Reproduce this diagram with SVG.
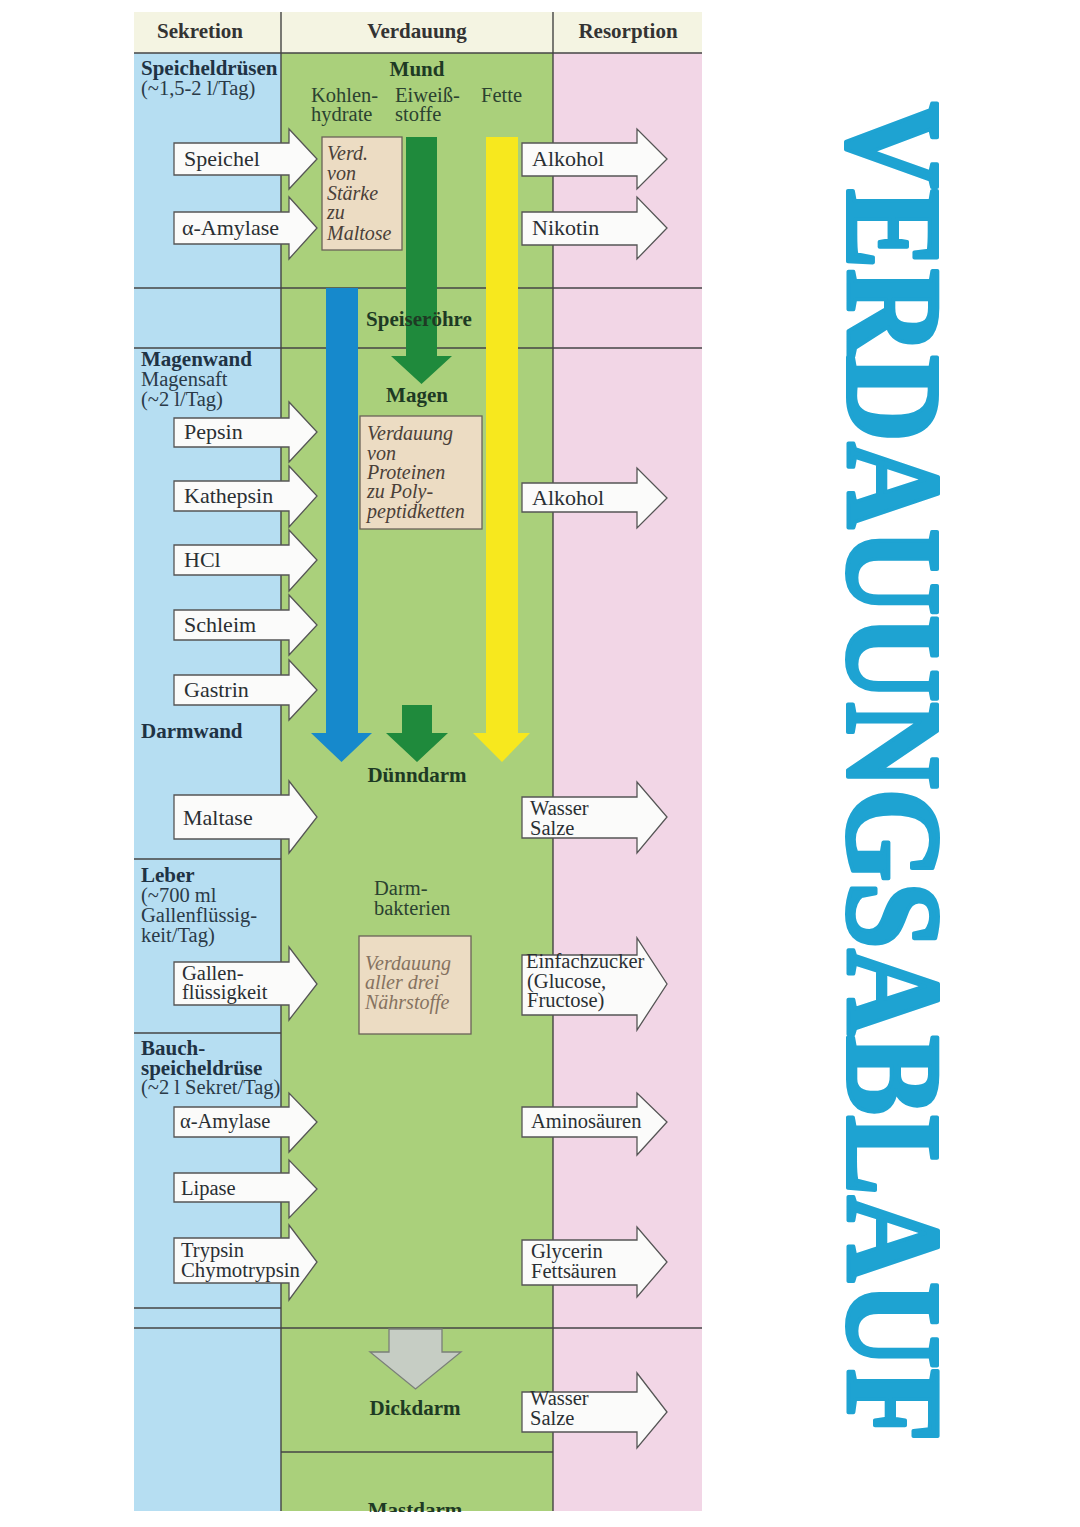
<svg xmlns="http://www.w3.org/2000/svg" width="1080" height="1527" viewBox="0 0 1080 1527">
<style>
.t{font-family:"Liberation Serif","Times New Roman",serif;fill:#2a2f33}
.lbl{font-size:22px}
.lbl2{font-size:20.5px}
.hd{font-size:21px;font-weight:bold;fill:#333}
.sec{font-size:21px;font-weight:bold;fill:#1f3344}
.secn{font-size:20.5px;fill:#2a3a48}
.org{font-size:21px;font-weight:bold;fill:#1e3a24}
.grn{font-size:20.5px;fill:#2b4230}
.it{font-size:20px;font-style:italic;fill:#4a4038}
.it2{font-size:20px;font-style:italic;fill:#857260}
.blk{fill:#fbfbfa;stroke:#555;stroke-width:1.3}
.box{fill:#ecdcc3;stroke:#6a6258;stroke-width:1.3}
.ln{stroke:#444;stroke-width:1.4}
.title{font-family:"Liberation Serif","Times New Roman",serif;font-weight:bold;font-size:118px;fill:#1ea3d2;stroke:#1ea3d2;stroke-width:3.5;stroke-linejoin:round}
</style>

<!-- background columns -->
<g id="table">
<rect x="134" y="12" width="568" height="41" fill="#f4f4e2"/>
<rect x="134" y="53" width="147" height="1458" fill="#b6def2"/>
<rect x="281" y="53" width="272" height="1458" fill="#aad07b"/>
<rect x="553" y="53" width="149" height="1458" fill="#f2d6e6"/>
<line class="ln" x1="134" y1="53" x2="702" y2="53"/>
<line class="ln" x1="281" y1="12" x2="281" y2="1511"/>
<line class="ln" x1="553" y1="12" x2="553" y2="1511"/>
<line class="ln" x1="134" y1="288" x2="702" y2="288"/>
<line class="ln" x1="134" y1="348" x2="702" y2="348"/>
<line class="ln" x1="134" y1="859" x2="281" y2="859"/>
<line class="ln" x1="134" y1="1033" x2="281" y2="1033"/>
<line class="ln" x1="134" y1="1308" x2="281" y2="1308"/>
<line class="ln" x1="134" y1="1328" x2="702" y2="1328"/>
<line class="ln" x1="281" y1="1452" x2="553" y2="1452"/>
<text class="t hd" x="200" y="38" text-anchor="middle">Sekretion</text>
<text class="t hd" x="417" y="38" text-anchor="middle">Verdauung</text>
<text class="t hd" x="628" y="38" text-anchor="middle">Resorption</text>
</g>

<!-- flow arrows -->
<g id="connectors">
<path d="M326,288 H358 V733 H372 L341.5,762 L311,733 H326 Z" fill="#1689cc"/>
<path d="M406,137 H437 V356 H452 L421.5,384 L391,356 H406 Z" fill="#1f8a3c"/>
<path d="M486,137 H518 V733 H530 L502,762 L473,733 H486 Z" fill="#f7e81e"/>
<path d="M402,705 H432 V733 H448 L417,762 L386,733 H402 Z" fill="#1f8a3c"/>
<path d="M389,1329 H442 V1352 H461 L415.5,1389 L370,1352 H389 Z" fill="#c6cdc4" stroke="#7a7f78" stroke-width="1.3"/>
</g>

<!-- left column organ labels -->
<g id="speicheldruesen">
<text class="t sec" x="141" y="75">Speicheldrüsen</text>
<text class="t secn" x="141" y="95">(~1,5-2 l/Tag)</text>
</g>
<g id="magenwand">
<text class="t sec" x="141" y="366">Magenwand</text>
<text class="t secn" x="141" y="386">Magensaft</text>
<text class="t secn" x="141" y="406">(~2 l/Tag)</text>
</g>
<g id="darmwand"><text class="t sec" x="141" y="738">Darmwand</text></g>
<g id="leber">
<text class="t sec" x="141" y="882">Leber</text>
<text class="t secn" x="141" y="902">(~700 ml</text>
<text class="t secn" x="141" y="922">Gallenflüssig-</text>
<text class="t secn" x="141" y="942">keit/Tag)</text>
</g>
<g id="bauchspeicheldruese">
<text class="t sec" x="141" y="1055">Bauch-</text>
<text class="t sec" x="141" y="1075">speicheldrüse</text>
<text class="t secn" x="141" y="1094" font-size="20">(~2 l Sekret/Tag)</text>
</g>

<!-- Verdauung column labels -->
<g id="mund">
<text class="t org" x="417" y="76" text-anchor="middle">Mund</text>
<text class="t grn" x="311" y="102">Kohlen-</text>
<text class="t grn" x="311" y="121">hydrate</text>
<text class="t grn" x="395" y="102">Eiweiß-</text>
<text class="t grn" x="395" y="121">stoffe</text>
<text class="t grn" x="481" y="102">Fette</text>
</g>
<g id="box-mund">
<rect class="box" x="322" y="137" width="80" height="113"/>
<text class="t it" x="327" y="160">Verd.</text>
<text class="t it" x="327" y="180">von</text>
<text class="t it" x="327" y="200">Stärke</text>
<text class="t it" x="327" y="219">zu</text>
<text class="t it" x="327" y="240">Maltose</text>
</g>
<g id="speiseroehre"><text class="t org" x="419" y="326" text-anchor="middle">Speiseröhre</text></g>
<g id="magen"><text class="t org" x="417" y="402" text-anchor="middle">Magen</text></g>
<g id="box-magen">
<rect class="box" x="360" y="416" width="122" height="113"/>
<text class="t it" x="367" y="440">Verdauung</text>
<text class="t it" x="367" y="460">von</text>
<text class="t it" x="367" y="479">Proteinen</text>
<text class="t it" x="367" y="498">zu Poly-</text>
<text class="t it" x="367" y="518">peptidketten</text>
</g>
<g id="duenndarm"><text class="t org" x="417" y="782" text-anchor="middle">Dünndarm</text></g>
<g id="darmbakterien">
<text class="t grn" x="374" y="895">Darm-</text>
<text class="t grn" x="374" y="915">bakterien</text>
</g>
<g id="box-duenndarm">
<rect class="box" x="359" y="936" width="112" height="98"/>
<text class="t it2" x="365" y="970">Verdauung</text>
<text class="t it2" x="365" y="989">aller drei</text>
<text class="t it2" x="365" y="1009">Nährstoffe</text>
</g>
<g id="dickdarm"><text class="t org" x="415" y="1415" text-anchor="middle">Dickdarm</text></g>
<g id="mastdarm"><text class="t org" x="415" y="1517" text-anchor="middle">Mastdarm</text></g>
<rect x="130" y="1512" width="580" height="15" fill="#ffffff"/>

<!-- secretion arrows -->
<g id="s-speichel"><path class="blk" d="M174,143 H289 V129 L317,159 L289,189 V175 H174 Z"/><text class="t lbl" x="184" y="166">Speichel</text></g>
<g id="s-amylase1"><path class="blk" d="M174,212 H289 V197 L317,228 L289,259 V244 H174 Z"/><text class="t lbl" x="182" y="235">α-Amylase</text></g>
<g id="s-pepsin"><path class="blk" d="M174,418 H289 V402 L317,432 L289,462 V447 H174 Z"/><text class="t lbl" x="184" y="439">Pepsin</text></g>
<g id="s-kathepsin"><path class="blk" d="M174,481 H289 V466 L317,496 L289,527 V511 H174 Z"/><text class="t lbl" x="184" y="503">Kathepsin</text></g>
<g id="s-hcl"><path class="blk" d="M174,545 H289 V530 L317,560 L289,591 V575 H174 Z"/><text class="t lbl" x="184" y="567">HCl</text></g>
<g id="s-schleim"><path class="blk" d="M174,610 H289 V595 L317,625 L289,655 V640 H174 Z"/><text class="t lbl" x="184" y="632">Schleim</text></g>
<g id="s-gastrin"><path class="blk" d="M174,675 H289 V660 L317,690 L289,720 V705 H174 Z"/><text class="t lbl" x="184" y="697">Gastrin</text></g>
<g id="s-maltase"><path class="blk" d="M174,795 H289 V781 L317,817 L289,853 V839 H174 Z"/><text class="t lbl" x="183" y="825">Maltase</text></g>
<g id="s-galle"><path class="blk" d="M174,962 H289 V947 L317,984 L289,1020 V1005 H174 Z"/><text class="t lbl2" x="182" y="980">Gallen-</text><text class="t lbl2" x="182" y="999">flüssigkeit</text></g>
<g id="s-amylase2"><path class="blk" d="M174,1107 H289 V1093 L317,1122 L289,1152 V1137 H174 Z"/><text class="t lbl2" x="180" y="1128">α-Amylase</text></g>
<g id="s-lipase"><path class="blk" d="M174,1173 H289 V1160 L317,1189 L289,1218 V1202 H174 Z"/><text class="t lbl2" x="181" y="1195">Lipase</text></g>
<g id="s-trypsin"><path class="blk" d="M174,1238 H289 V1225 L317,1262 L289,1300 V1283 H174 Z"/><text class="t lbl2" x="181" y="1257">Trypsin</text><text class="t lbl2" x="181" y="1277" textLength="119" lengthAdjust="spacingAndGlyphs">Chymotrypsin</text></g>

<!-- resorption arrows -->
<g id="r-alkohol1"><path class="blk" d="M522,143 H637 V129 L667,159 L637,189 V176 H522 Z"/><text class="t lbl" x="532" y="166">Alkohol</text></g>
<g id="r-nikotin"><path class="blk" d="M522,212 H637 V197 L667,228 L637,259 V245 H522 Z"/><text class="t lbl" x="532" y="235">Nikotin</text></g>
<g id="r-alkohol2"><path class="blk" d="M522,483 H637 V468 L667,498 L637,528 V512 H522 Z"/><text class="t lbl" x="532" y="505">Alkohol</text></g>
<g id="r-wasser1"><path class="blk" d="M522,797 H637 V782 L667,817 L637,853 V838 H522 Z"/><text class="t lbl2" x="530" y="815">Wasser</text><text class="t lbl2" x="530" y="835">Salze</text></g>
<g id="r-zucker"><path class="blk" d="M522,955 H637 V938 L667,984 L637,1030 V1015 H522 Z"/><text class="t lbl2" x="526" y="968">Einfachzucker</text><text class="t lbl2" x="527" y="988">(Glucose,</text><text class="t lbl2" x="527" y="1007">Fructose)</text></g>
<g id="r-amino"><path class="blk" d="M522,1107 H637 V1093 L667,1122 L637,1155 V1137 H522 Z"/><text class="t lbl2" x="531" y="1128">Aminosäuren</text></g>
<g id="r-glycerin"><path class="blk" d="M522,1240 H637 V1227 L667,1262 L637,1297 V1285 H522 Z"/><text class="t lbl2" x="531" y="1258">Glycerin</text><text class="t lbl2" x="531" y="1278">Fettsäuren</text></g>
<g id="r-wasser2"><path class="blk" d="M522,1392 H637 V1373 L667,1412 L637,1448 V1432 H522 Z"/><text class="t lbl2" x="530" y="1405">Wasser</text><text class="t lbl2" x="530" y="1425">Salze</text></g>

<!-- title -->
<g id="title"><text class="title" transform="translate(848,102) rotate(90) scale(1,1.14)" x="0" y="0" textLength="1340" lengthAdjust="spacingAndGlyphs">VERDAUUNGSABLAUF</text></g>
</svg>
